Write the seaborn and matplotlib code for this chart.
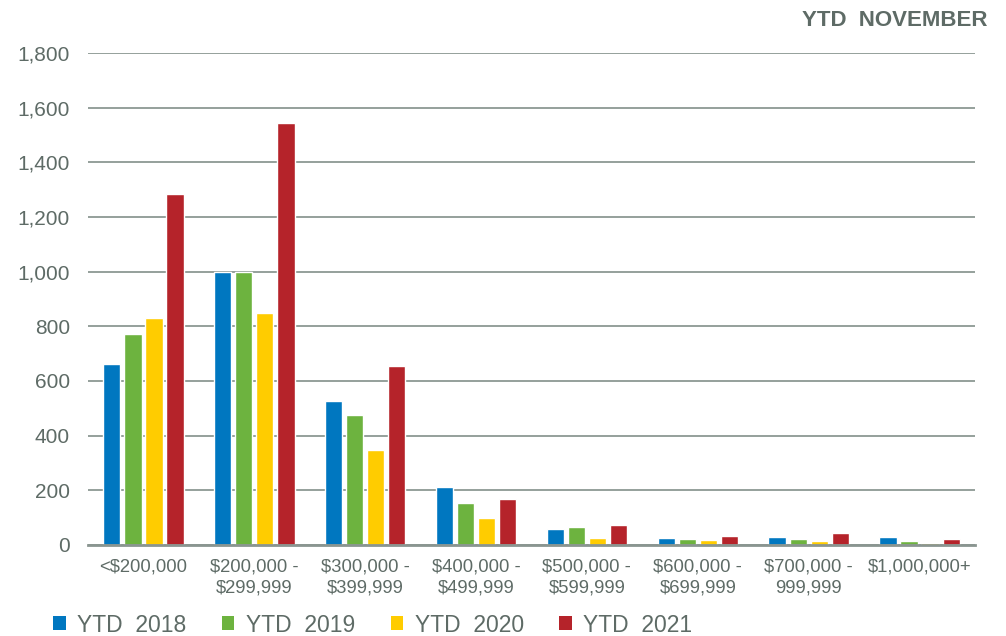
import matplotlib
matplotlib.use("Agg")
import matplotlib.pyplot as plt
import seaborn as sns
import pandas as pd
from matplotlib.patches import Patch
from matplotlib.ticker import FuncFormatter

categories = ["<$200,000", "$200,000 -\n$299,999", "$300,000 -\n$399,999", "$400,000 -\n$499,999",
              "$500,000 -\n$599,999", "$600,000 -\n$699,999", "$700,000 -\n999,999", "$1,000,000+"]
series = ["YTD  2018", "YTD  2019", "YTD  2020", "YTD  2021"]
ytd_2018 = [662, 999, 528, 212, 60, 25, 28, 28]
ytd_2019 = [773, 998, 476, 154, 66, 23, 22, 13]
ytd_2020 = [831, 850, 348, 99, 27, 17, 15, 8]
ytd_2021 = [1283, 1543, 655, 169, 73, 32, 44, 22]
colors = ["#0077C0", "#6DB33F", "#FFCC00", "#B5232A"]
title = "YTD  NOVEMBER"

text_color = "#5E6B66"
grid_color = "#8C9893"

rows = []
for s, vals in zip(series, [ytd_2018, ytd_2019, ytd_2020, ytd_2021]):
    for c, v in zip(categories, vals):
        rows.append({"category": c, "series": s, "value": v})
df = pd.DataFrame(rows)

sns.set_theme(style="white")
plt.rcParams["font.family"] = ["Liberation Sans", "DejaVu Sans"]

fig = plt.figure(figsize=(10.06, 6.36), dpi=100)
ax = fig.add_axes([88/1006, 1-545/636, (975-88)/1006, (545-53)/636])

sns.barplot(data=df, x="category", y="value", hue="series", order=categories,
            hue_order=series, palette=colors, width=0.76, gap=0.18,
            saturation=1, errorbar=None, ax=ax, legend=False)

ax.set_ylim(0, 1800)
ax.set_xlim(-0.5, len(categories)-0.5)
ax.set_yticks(range(0, 1801, 200))
ax.yaxis.set_major_formatter(FuncFormatter(lambda v, p: f"{int(v):,}"))
ax.grid(axis="y", color=grid_color, linewidth=1.3)
ax.set_axisbelow(True)
for s in ["top", "right", "left"]:
    ax.spines[s].set_visible(False)
ax.spines["bottom"].set_color("#8A9590")
ax.spines["bottom"].set_linewidth(2)
ax.set_xlabel("")
ax.set_ylabel("")
ax.tick_params(axis="y", labelsize=15, colors=text_color, length=0, pad=13)
ax.tick_params(axis="x", labelsize=13.3, colors=text_color, length=0, pad=10)
for lbl in ax.get_xticklabels():
    lbl.set_linespacing(1.3)

fig.text(988/1006, 1-20/636, title, ha="right", va="center", fontsize=16,
         fontweight="bold", color=text_color)

handles = [Patch(facecolor=c, edgecolor="none") for c in colors]
leg = fig.legend(handles, series, loc="center left", bbox_to_anchor=(53/1006, 1-625/636),
                 ncol=4, frameon=False, fontsize=16.5, handlelength=0.55, handleheight=0.55,
                 handletextpad=0.5, columnspacing=1.55, borderaxespad=0, borderpad=0)
for t in leg.get_texts():
    t.set_color(text_color)

fig.savefig("out.png", dpi=100)
